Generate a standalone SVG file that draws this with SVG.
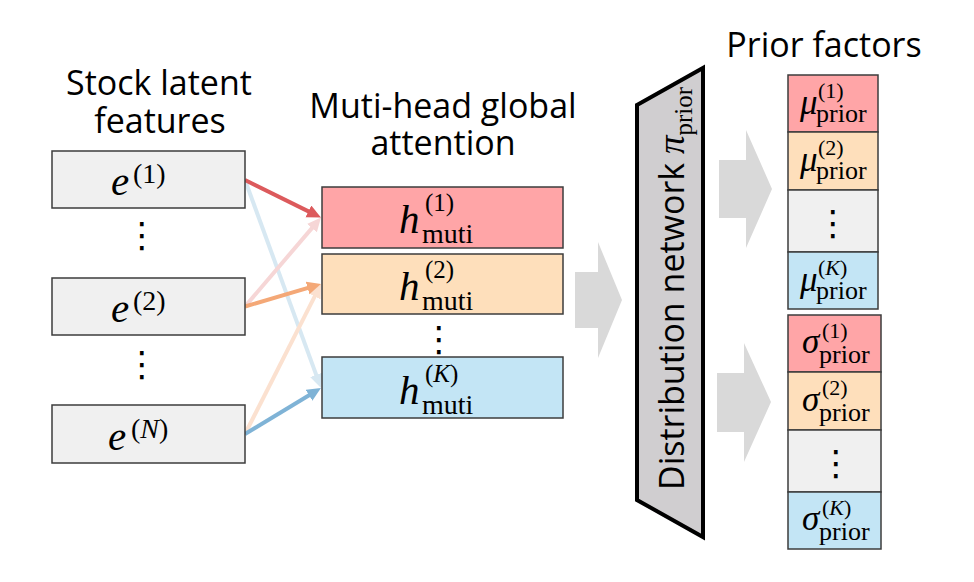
<svg xmlns="http://www.w3.org/2000/svg" width="974" height="582" viewBox="0 0 974 582">
<defs>
<style>
.title{font-family:"Open Sans","Noto Sans",sans-serif;font-size:34px;fill:#000}
.m{font-family:"Liberation Serif","DejaVu Serif",serif;fill:#000}
.it{font-style:italic}
.box{stroke:#3c3c3c;stroke-width:1.5}
.gray{fill:#f0f0f0}
.red{fill:#ffa5a7}
.org{fill:#fedfbb}
.blu{fill:#c3e5f5}
.dots{font-family:"DejaVu Sans",sans-serif;font-size:35px;fill:#000;text-anchor:middle}
.big{fill:#d9d9d9}
.ln{fill:none;stroke-width:4}
</style>
<marker id="mRed" markerUnits="userSpaceOnUse" markerWidth="16" markerHeight="14" refX="4" refY="6.5" orient="auto"><path d="M0,0 L14,6.5 L0,13 z" fill="#dc5a5c"/></marker>
<marker id="mOrg" markerUnits="userSpaceOnUse" markerWidth="16" markerHeight="14" refX="4" refY="6.5" orient="auto"><path d="M0,0 L14,6.5 L0,13 z" fill="#f4a877"/></marker>
<marker id="mBlu" markerUnits="userSpaceOnUse" markerWidth="16" markerHeight="14" refX="4" refY="6.5" orient="auto"><path d="M0,0 L14,6.5 L0,13 z" fill="#7fb3d6"/></marker>
<marker id="mRedL" markerUnits="userSpaceOnUse" markerWidth="16" markerHeight="14" refX="4" refY="6.5" orient="auto"><path d="M0,0 L14,6.5 L0,13 z" fill="#f6d6d6"/></marker>
<marker id="mOrgL" markerUnits="userSpaceOnUse" markerWidth="16" markerHeight="14" refX="4" refY="6.5" orient="auto"><path d="M0,0 L14,6.5 L0,13 z" fill="#fbe1d0"/></marker>
<marker id="mBluL" markerUnits="userSpaceOnUse" markerWidth="16" markerHeight="14" refX="4" refY="6.5" orient="auto"><path d="M0,0 L14,6.5 L0,13 z" fill="#d7e8f2"/></marker>
</defs>
<rect width="974" height="582" fill="#fff"/>

<g id="titles">
<text class="title" x="159" y="95" text-anchor="middle">Stock latent</text>
<text class="title" x="160" y="133" text-anchor="middle">features</text>
<text class="title" x="443" y="118" text-anchor="middle">Muti-head global</text>
<text class="title" x="443" y="155" text-anchor="middle">attention</text>
<text class="title" x="824" y="57" text-anchor="middle">Prior factors</text>
</g>

<g id="connectors">
<line class="ln" x1="245" y1="180" x2="317.6" y2="378.6" stroke="#d7e8f2" marker-end="url(#mBluL)"/>
<line class="ln" x1="245" y1="306.5" x2="314.5" y2="225.1" stroke="#f6d6d6" marker-end="url(#mRedL)"/>
<line class="ln" x1="245" y1="434" x2="316.5" y2="292.9" stroke="#fbe1d0" marker-end="url(#mOrgL)"/>
<line class="ln" x1="245" y1="180" x2="312" y2="213.1" stroke="#dc5a5c" marker-end="url(#mRed)"/>
<line class="ln" x1="245" y1="306.5" x2="311.4" y2="286.8" stroke="#f4a877" marker-end="url(#mOrg)"/>
<line class="ln" x1="245" y1="434" x2="312.4" y2="393.2" stroke="#7fb3d6" marker-end="url(#mBlu)"/>
<polygon class="big" points="575,272 598,272 598,242 622,300 598,358 598,328 575,328"/>
<polygon class="big" points="719,160 746,160 746,130 772,189 746,248 746,218 719,218"/>
<polygon class="big" points="717,373 744,373 744,343 771,402 744,462 744,432 717,432"/>
</g>

<g id="e1">
<rect class="box gray" x="52" y="151" width="193" height="57"/>
<text class="m"><tspan class="it" x="111" y="195" font-size="41">e</tspan><tspan x="133" y="183" font-size="28">(1)</tspan></text>
</g>
<text id="dots-e1" class="dots" x="142" y="247">⋮</text>
<g id="e2">
<rect class="box gray" x="52" y="278" width="193" height="57"/>
<text class="m"><tspan class="it" x="111" y="322" font-size="41">e</tspan><tspan x="133" y="310" font-size="28">(2)</tspan></text>
</g>
<text id="dots-e2" class="dots" x="142" y="376">⋮</text>
<g id="eN">
<rect class="box gray" x="52" y="405" width="193" height="58"/>
<text class="m"><tspan class="it" x="108" y="449.5" font-size="41">e</tspan><tspan x="131" y="437.5" font-size="28">(<tspan class="it">N</tspan>)</tspan></text>
</g>

<g id="h1">
<rect class="box red" x="322" y="187" width="241" height="61"/>
<text class="m"><tspan class="it" x="399" y="233" font-size="41">h</tspan><tspan x="425" y="211" font-size="25">(1)</tspan><tspan x="422" y="243" font-size="28">muti</tspan></text>
</g>
<g id="h2">
<rect class="box org" x="322" y="254" width="241" height="60"/>
<text class="m"><tspan class="it" x="399" y="299.5" font-size="41">h</tspan><tspan x="425" y="277.5" font-size="25">(2)</tspan><tspan x="422" y="309.5" font-size="28">muti</tspan></text>
</g>
<text id="dots-h" class="dots" x="439" y="351">⋮</text>
<g id="hK">
<rect class="box blu" x="322" y="357" width="241" height="61"/>
<text class="m"><tspan class="it" x="399" y="403.5" font-size="41">h</tspan><tspan x="425" y="381.5" font-size="25">(<tspan class="it">K</tspan>)</tspan><tspan x="422" y="413.5" font-size="28">muti</tspan></text>
</g>

<g id="distribution-network">
<polygon points="637,105 703,68 703,537 637,500" fill="#d0ced0" stroke="#000" stroke-width="4"/>
<text class="title" transform="translate(684,490) rotate(-90)">Distribution network <tspan class="m it" font-size="37">π</tspan><tspan class="m" font-size="25" dy="8">prior</tspan></text>
</g>

<g id="mu1">
<rect class="box red" x="788" y="75" width="90" height="57"/>
<text class="m"><tspan class="it" x="800" y="114" font-size="35">μ</tspan><tspan x="818" y="98" font-size="22">(1)</tspan><tspan x="816" y="121.5" font-size="26">prior</tspan></text>
</g>
<g id="mu2">
<rect class="box org" x="788" y="132" width="90" height="58"/>
<text class="m"><tspan class="it" x="800" y="171" font-size="35">μ</tspan><tspan x="818" y="155" font-size="22">(2)</tspan><tspan x="816" y="179" font-size="26">prior</tspan></text>
</g>
<g id="mu-dots">
<rect class="box gray" x="788" y="190" width="90" height="62"/>
<text class="dots" x="833" y="235">⋮</text>
</g>
<g id="muK">
<rect class="box blu" x="788" y="252" width="90" height="57"/>
<text class="m"><tspan class="it" x="800" y="290.5" font-size="35">μ</tspan><tspan x="818" y="274.5" font-size="22">(<tspan class="it">K</tspan>)</tspan><tspan x="816" y="298.5" font-size="26">prior</tspan></text>
</g>

<g id="sigma1">
<rect class="box red" x="788" y="315" width="93" height="57"/>
<text class="m"><tspan class="it" x="802" y="353" font-size="35">σ</tspan><tspan x="822" y="337.5" font-size="22">(1)</tspan><tspan x="819" y="363" font-size="26">prior</tspan></text>
</g>
<g id="sigma2">
<rect class="box org" x="788" y="372" width="93" height="58"/>
<text class="m"><tspan class="it" x="802" y="410.5" font-size="35">σ</tspan><tspan x="822" y="395" font-size="22">(2)</tspan><tspan x="819" y="420.5" font-size="26">prior</tspan></text>
</g>
<g id="sigma-dots">
<rect class="box gray" x="788" y="430" width="93" height="62"/>
<text class="dots" x="836" y="475">⋮</text>
</g>
<g id="sigmaK">
<rect class="box blu" x="788" y="492" width="93" height="57"/>
<text class="m"><tspan class="it" x="802" y="530" font-size="35">σ</tspan><tspan x="822" y="514.5" font-size="22">(<tspan class="it">K</tspan>)</tspan><tspan x="819" y="540" font-size="26">prior</tspan></text>
</g>
</svg>
